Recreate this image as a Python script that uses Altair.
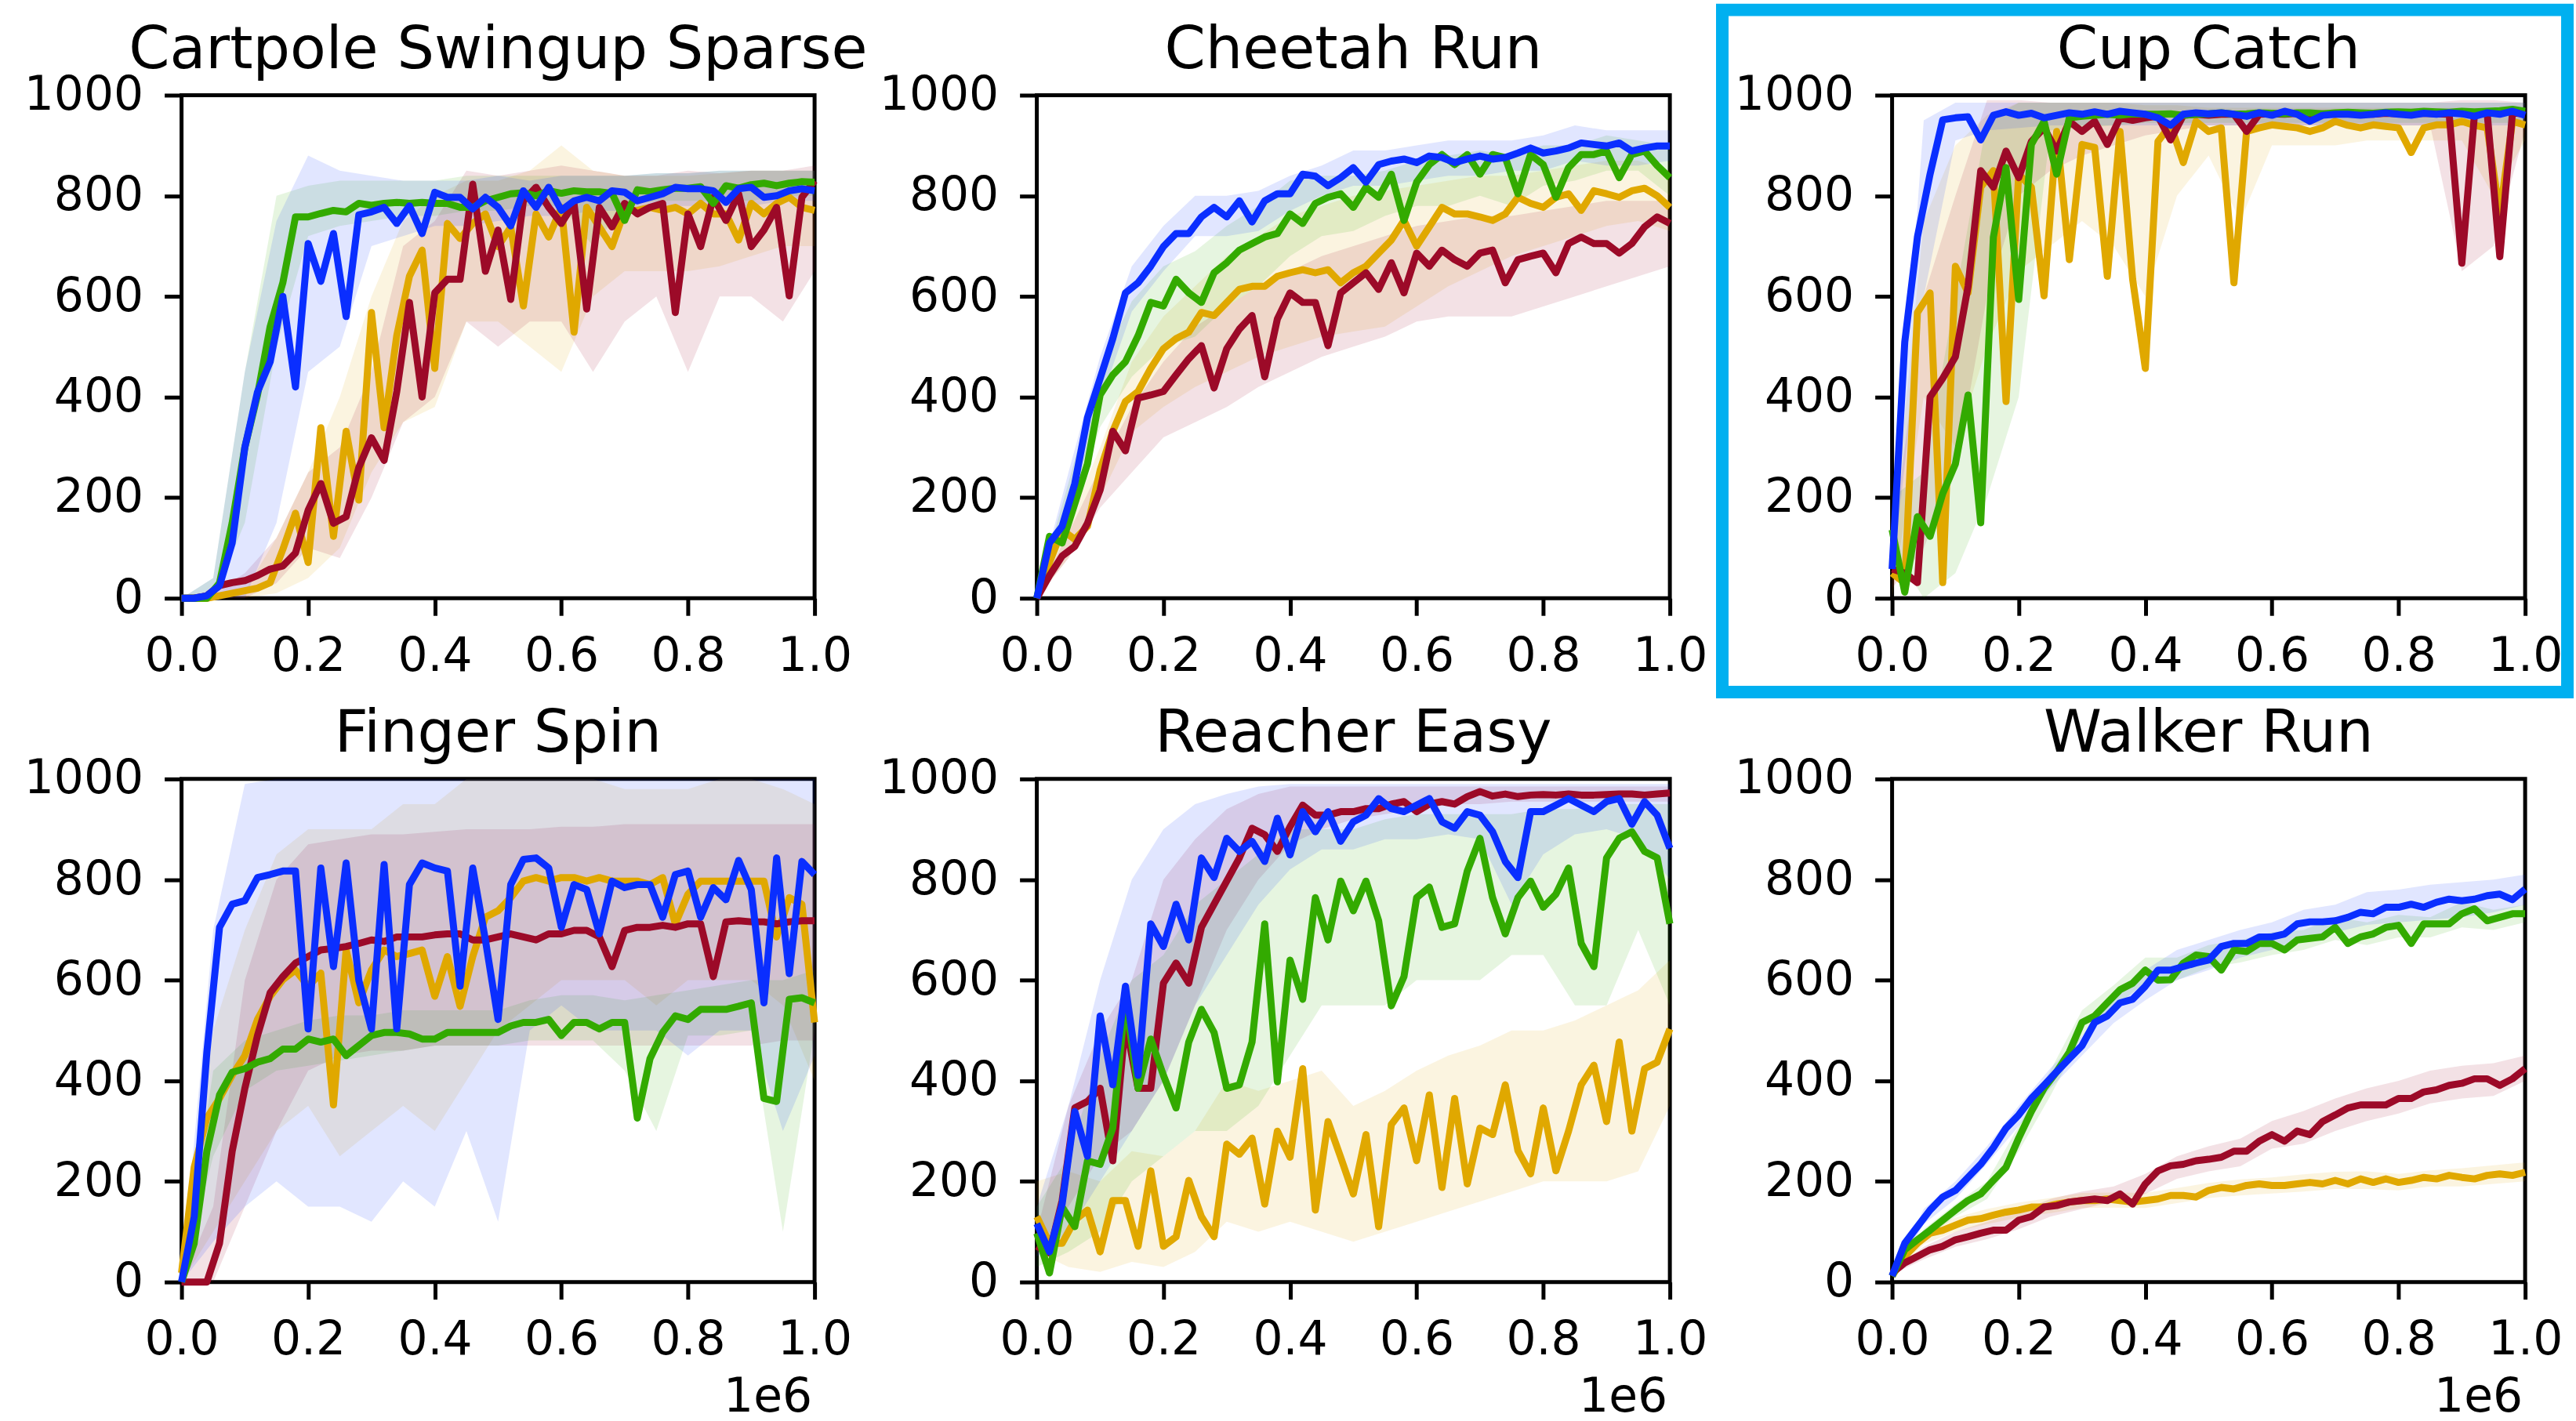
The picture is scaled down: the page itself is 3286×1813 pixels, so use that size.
import altair as alt
import pandas as pd

# evaluation steps (x, in units of 1e6 environment steps)
STEPS = [0.00, 0.02, 0.04, 0.06, 0.08, 0.10, 0.12, 0.14, 0.16, 0.18, 0.20, 0.22, 0.24, 0.26, 0.28,
         0.30, 0.32, 0.34, 0.36, 0.38, 0.40, 0.42, 0.44, 0.46, 0.48, 0.50, 0.52, 0.54, 0.56, 0.58,
         0.60, 0.62, 0.64, 0.66, 0.68, 0.70, 0.72, 0.74, 0.76, 0.78, 0.80, 0.82, 0.84, 0.86, 0.88,
         0.90, 0.92, 0.94, 0.96, 0.98, 1.00]
BAND_STEPS = [0.00, 0.05, 0.10, 0.15, 0.20, 0.25, 0.30, 0.35, 0.40, 0.45, 0.50, 0.55, 0.60, 0.65,
              0.70, 0.75, 0.80, 0.85, 0.90, 0.95, 1.00]
X_TICKS = [0.0, 0.2, 0.4, 0.6, 0.8, 1.0]
Y_TICKS = [0, 200, 400, 600, 800, 1000]

SERIES = ["gold", "crimson", "green", "blue"]
COLORS = {"gold": "#E0A800", "crimson": "#9C0A28", "green": "#33AA00", "blue": "#0A2EFF"}
TITLES = ["Cartpole Swingup Sparse", "Cheetah Run", "Cup Catch", "Finger Spin", "Reacher Easy", "Walker Run"]

# ---------------- Cartpole Swingup Sparse ----------------
CP_GOLD = [0,0,0,5,10,15,20,31,97,169,71,339,123,332,195,568,339,522,640,692,457,745,715,745,764,699,738,581,764,718,777,529,777,738,699,771,771,777,771,777,764,785,764,764,712,785,764,785,797,777,771]
CP_RED = [0,0,5,25,31,35,45,58,64,90,175,228,149,162,260,319,274,411,588,400,607,634,634,823,650,732,594,790,817,777,745,785,575,777,738,785,764,777,785,568,764,699,797,751,804,699,732,777,601,797,830]
CP_GREEN = [0,0,0,30,150,300,404,540,627,758,758,765,771,768,785,781,785,787,785,787,785,785,777,777,790,797,804,806,800,810,805,810,808,808,805,751,812,808,812,815,815,818,785,820,815,822,825,820,825,828,827]
CP_BLUE = [0,0,5,25,110,300,410,470,600,420,705,630,725,560,762,768,777,745,780,725,807,797,797,774,797,777,740,810,777,817,771,790,797,790,810,807,790,797,804,817,814,814,810,787,814,817,797,800,810,814,810]
CP_GOLD_LO = [0,0,0,10,40,100,250,350,380,550,550,500,450,600,650,650,650,660,680,700,700]
CP_GOLD_HI = [0,5,15,120,250,400,600,750,800,830,830,850,900,850,840,840,840,845,850,850,850]
CP_RED_LO = [0,0,0,30,100,80,200,350,400,550,500,550,550,450,550,600,450,600,600,550,650]
CP_RED_HI = [0,10,50,120,250,300,450,700,750,850,840,850,860,850,840,840,850,845,850,850,860]
CP_GREEN_LO = [0,0,150,500,720,740,750,760,760,770,770,780,780,700,780,790,790,790,790,800,800]
CP_GREEN_HI = [0,40,450,800,820,830,830,830,830,840,840,840,840,840,840,845,845,850,850,850,850]
CP_BLUE_LO = [0,0,0,150,450,500,700,720,740,740,750,760,760,770,770,780,780,780,780,790,790]
CP_BLUE_HI = [0,40,450,750,880,850,840,830,830,830,840,830,840,840,840,845,845,850,850,850,850]

# ---------------- Cheetah Run ----------------
CH_GOLD = [0,71,136,117,143,254,332,391,411,457,496,516,529,568,562,588,614,620,620,640,647,653,647,653,627,647,660,686,712,751,700,738,777,764,764,758,751,764,797,785,777,797,804,771,810,804,797,810,815,800,777]
CH_RED = [0,45,84,103,149,215,332,293,398,404,411,444,476,502,418,496,535,562,440,555,607,588,588,502,607,627,647,614,667,607,686,660,692,673,660,686,692,627,673,680,686,647,705,718,705,705,686,705,738,758,745]
CH_GREEN = [0,123,110,188,267,404,444,470,522,588,581,634,607,588,647,667,692,705,718,725,764,745,785,797,804,777,817,797,843,751,827,862,882,862,882,843,882,876,804,882,862,797,856,882,882,889,836,882,889,860,836]
CH_BLUE = [0,110,143,228,359,437,516,607,627,660,699,725,725,758,777,758,790,748,790,804,804,843,839,820,836,856,827,862,869,873,866,879,876,866,873,879,873,876,885,895,885,889,895,905,902,899,905,889,895,899,899]
CH_GOLD_LO = [0,80,200,330,380,420,450,480,500,520,530,540,580,620,650,680,700,720,740,750,730]
CH_GOLD_HI = [10,150,300,470,560,620,680,720,760,780,800,810,820,830,840,840,850,860,870,870,850]
CH_RED_LO = [0,80,180,250,320,350,380,420,450,480,500,520,550,560,560,560,580,600,620,640,660]
CH_RED_HI = [10,130,260,380,470,540,580,620,650,680,700,720,740,750,760,760,770,780,790,790,790]
CH_GREEN_LO = [0,140,340,440,500,520,580,620,680,720,730,760,780,780,800,780,820,830,850,850,800]
CH_GREEN_HI = [10,230,460,590,660,690,740,780,830,840,840,850,870,880,890,880,900,900,920,910,900]
CH_BLUE_LO = [0,160,390,570,650,720,720,730,770,800,820,820,830,840,840,850,850,870,860,860,870]
CH_BLUE_HI = [10,250,480,660,740,800,800,810,840,860,890,890,900,910,910,910,920,940,930,930,930]

# ---------------- Cup Catch ----------------
CC_GOLD = [50,30,568,607,31,660,607,817,850,391,843,817,601,928,673,902,896,640,928,634,457,908,941,866,948,928,935,627,928,935,941,938,935,928,935,948,940,935,941,938,935,886,935,941,941,948,940,935,764,948,941]
CC_RED = [58,50,31,400,437,480,620,850,817,889,836,908,935,889,948,928,948,902,955,950,955,958,911,960,962,960,962,962,928,962,963,962,964,962,963,962,964,963,962,964,963,962,964,963,962,666,962,965,679,965,962]
CC_GREEN = [136,12,162,123,208,267,404,150,718,856,594,902,948,843,955,958,960,962,960,963,962,962,963,960,962,963,965,962,963,965,964,963,965,965,963,965,966,965,964,966,967,966,968,967,966,968,967,968,969,972,968]
CC_BLUE = [58,509,718,843,951,955,957,911,960,967,960,964,955,960,965,962,967,962,968,965,962,955,940,962,965,963,965,962,958,965,960,968,962,948,960,962,962,960,962,965,962,960,964,962,965,963,958,965,962,968,960]
CC_GOLD_LO = [0,400,300,500,650,700,750,700,600,800,880,750,900,900,900,910,910,910,910,800,910]
CC_GOLD_HI = [100,750,900,960,985,985,985,985,980,980,975,975,975,975,975,975,975,975,975,975,975]
CC_RED_LO = [20,100,250,600,800,850,880,900,920,930,940,940,940,940,940,940,940,940,650,700,930]
CC_RED_HI = [100,600,800,990,990,985,985,985,985,985,985,985,985,985,985,985,985,985,990,990,985]
CC_GREEN_LO = [100,0,50,200,400,930,935,940,945,945,945,945,945,945,945,945,945,945,945,945,945]
CC_GREEN_HI = [200,250,600,950,985,985,985,985,985,985,985,985,985,985,985,985,985,985,985,985,985]
CC_BLUE_LO = [40,600,910,930,935,940,940,940,940,940,940,940,940,940,940,940,940,940,940,940,940]
CC_BLUE_HI = [80,950,985,985,985,985,985,985,985,985,985,985,985,985,985,985,985,985,985,985,985]

# ---------------- Finger Spin ----------------
FS_GOLD = [18,228,326,365,411,450,522,568,601,620,588,614,352,660,555,620,660,647,653,660,568,647,548,647,725,738,764,797,804,797,804,804,797,804,797,797,797,790,804,712,771,797,797,797,797,797,797,686,764,751,516]
FS_RED = [0,0,0,77,260,385,490,575,607,634,647,660,663,667,673,680,677,686,686,686,690,692,692,680,680,686,692,686,680,692,692,699,699,686,627,699,705,705,709,705,712,712,607,716,718,716,716,712,716,718,718]
FS_GREEN = [0,77,260,372,417,424,437,444,463,463,483,477,483,450,470,490,496,496,493,483,483,496,496,496,496,496,509,516,516,522,490,516,516,503,516,516,326,444,496,529,522,542,542,542,548,555,365,359,562,565,555]
FS_BLUE = [0,130,457,705,751,758,804,810,817,817,503,823,627,833,600,503,830,503,790,833,823,817,588,823,680,522,790,840,843,823,705,790,780,692,797,784,790,790,725,810,817,725,784,760,838,780,555,843,613,836,810]
FS_GOLD_LO = [0,100,200,300,350,250,300,350,300,400,500,550,600,600,600,550,600,600,600,550,400]
FS_GOLD_HI = [50,500,700,850,900,900,900,950,950,1000,1000,1000,1000,1000,980,980,980,1000,1000,980,950]
FS_RED_LO = [0,0,150,300,420,450,460,460,470,470,470,470,470,470,470,470,470,470,470,480,480]
FS_RED_HI = [0,150,600,800,870,880,890,890,895,900,900,900,905,905,910,910,910,910,910,910,910]
FS_GREEN_LO = [0,250,380,420,430,440,450,460,470,470,470,480,480,480,420,300,490,490,500,100,500]
FS_GREEN_HI = [0,420,480,500,520,530,530,540,540,540,540,560,570,570,560,570,580,590,600,600,620]
FS_BLUE_LO = [0,80,150,200,150,150,120,200,150,300,120,500,550,500,500,500,450,500,500,300,450]
FS_BLUE_HI = [0,700,990,1000,1000,1000,1000,1000,1000,1000,1000,1000,1000,1000,1000,1000,1000,1000,1000,1000,1000]

# ---------------- Reacher Easy ----------------
RE_GOLD = [130,77,77,123,143,60,162,162,71,221,71,90,202,130,90,274,254,286,155,300,248,424,143,319,248,175,293,110,313,346,241,372,188,365,195,306,293,392,261,215,346,221,300,392,431,319,477,300,424,437,503]
RE_RED = [71,58,162,346,359,385,241,516,385,385,594,634,594,705,751,797,843,902,889,856,905,948,928,928,935,935,941,941,950,955,935,950,955,950,965,975,966,970,965,968,969,968,970,968,968,969,970,970,968,970,972]
RE_GREEN = [97,18,149,110,241,234,306,562,385,483,411,346,477,542,496,385,392,477,712,398,640,562,764,680,797,738,797,718,549,607,764,785,705,712,817,882,764,692,764,797,745,771,823,673,627,843,882,895,856,843,712]
RE_BLUE = [116,60,155,339,250,529,392,588,411,712,667,751,680,843,804,882,856,876,836,922,849,935,895,935,876,915,928,961,941,935,948,961,915,902,935,928,895,836,804,935,935,948,961,948,935,955,961,910,955,928,862]
RE_GOLD_LO = [60,30,20,40,30,60,120,100,120,100,80,100,120,140,160,180,200,200,200,220,350]
RE_GOLD_HI = [200,220,200,260,250,300,400,380,400,420,350,380,420,450,470,500,500,520,550,580,640]
RE_RED_LO = [50,150,250,300,400,550,700,800,870,900,920,930,940,950,950,955,955,955,955,955,955]
RE_RED_HI = [100,350,500,600,800,880,940,970,985,985,985,985,985,985,985,985,985,985,985,985,985]
RE_GREEN_LO = [30,60,100,200,250,300,300,350,450,550,550,550,600,600,600,650,650,550,550,700,550]
RE_GREEN_HI = [150,250,450,600,650,750,800,850,900,900,900,920,930,930,930,930,940,940,950,950,950]
RE_BLUE_LO = [50,100,200,300,400,550,650,750,820,860,860,880,880,890,880,750,850,890,900,880,800]
RE_BLUE_HI = [150,350,600,800,900,950,970,985,990,990,990,990,990,990,990,990,990,990,990,990,990]

# ---------------- Walker Run ----------------
WR_GOLD = [12,51,77,97,103,113,123,126,133,139,143,149,149,155,159,162,162,165,162,159,162,165,172,172,169,182,188,185,192,195,192,192,195,198,195,202,195,205,198,205,198,202,208,205,212,208,205,212,215,212,218]
WR_RED = [18,38,51,64,71,84,90,97,103,103,123,130,149,152,159,162,165,162,175,155,195,221,231,234,241,244,248,260,260,280,293,280,300,293,319,332,346,352,352,352,365,365,378,382,391,395,404,404,391,404,424]
WR_GREEN = [12,64,84,103,123,143,162,175,202,228,286,339,385,418,457,516,529,555,581,594,620,600,601,634,650,647,620,660,657,673,673,660,680,683,686,705,673,686,692,705,709,673,712,712,712,732,742,718,725,732,732]
WR_BLUE = [12,77,110,143,169,182,208,234,267,306,332,365,391,418,444,470,516,529,555,562,588,620,620,627,634,640,667,673,673,686,686,692,712,716,716,718,725,735,732,745,745,751,745,755,761,758,761,768,771,760,781]
WR_GOLD_LO = [10,75,100,115,128,137,147,148,147,157,167,172,176,180,185,185,182,190,190,195,200]
WR_GOLD_HI = [15,100,128,145,158,167,177,178,177,187,197,204,208,214,219,220,215,222,226,232,238]
WR_RED_LO = [15,45,70,85,105,130,145,160,175,205,220,230,265,275,300,320,335,355,365,370,400]
WR_RED_HI = [22,70,100,120,140,165,180,190,215,250,270,285,320,340,365,385,400,420,430,435,450]
WR_GREEN_LO = [10,85,130,165,260,370,490,545,595,600,625,635,650,660,680,670,685,685,705,700,715]
WR_GREEN_HI = [15,105,155,200,310,420,540,590,645,645,670,680,695,700,725,715,730,725,755,740,750]
WR_BLUE_LO = [10,115,165,235,310,385,450,515,560,600,620,645,660,685,695,710,715,720,725,735,750]
WR_BLUE_HI = [15,145,200,270,350,425,490,560,620,660,680,700,715,740,750,775,780,790,795,800,810]

PANEL_DATA = [
    {"gold": (CP_GOLD, CP_GOLD_LO, CP_GOLD_HI), "crimson": (CP_RED, CP_RED_LO, CP_RED_HI),
     "green": (CP_GREEN, CP_GREEN_LO, CP_GREEN_HI), "blue": (CP_BLUE, CP_BLUE_LO, CP_BLUE_HI)},
    {"gold": (CH_GOLD, CH_GOLD_LO, CH_GOLD_HI), "crimson": (CH_RED, CH_RED_LO, CH_RED_HI),
     "green": (CH_GREEN, CH_GREEN_LO, CH_GREEN_HI), "blue": (CH_BLUE, CH_BLUE_LO, CH_BLUE_HI)},
    {"gold": (CC_GOLD, CC_GOLD_LO, CC_GOLD_HI), "crimson": (CC_RED, CC_RED_LO, CC_RED_HI),
     "green": (CC_GREEN, CC_GREEN_LO, CC_GREEN_HI), "blue": (CC_BLUE, CC_BLUE_LO, CC_BLUE_HI)},
    {"gold": (FS_GOLD, FS_GOLD_LO, FS_GOLD_HI), "crimson": (FS_RED, FS_RED_LO, FS_RED_HI),
     "green": (FS_GREEN, FS_GREEN_LO, FS_GREEN_HI), "blue": (FS_BLUE, FS_BLUE_LO, FS_BLUE_HI)},
    {"gold": (RE_GOLD, RE_GOLD_LO, RE_GOLD_HI), "crimson": (RE_RED, RE_RED_LO, RE_RED_HI),
     "green": (RE_GREEN, RE_GREEN_LO, RE_GREEN_HI), "blue": (RE_BLUE, RE_BLUE_LO, RE_BLUE_HI)},
    {"gold": (WR_GOLD, WR_GOLD_LO, WR_GOLD_HI), "crimson": (WR_RED, WR_RED_LO, WR_RED_HI),
     "green": (WR_GREEN, WR_GREEN_LO, WR_GREEN_HI), "blue": (WR_BLUE, WR_BLUE_LO, WR_BLUE_HI)},
]

for i, pdict in enumerate(PANEL_DATA):
    for s, (mean, lo, hi) in pdict.items():
        if len(mean) != len(STEPS) or len(lo) != len(BAND_STEPS) or len(hi) != len(BAND_STEPS):
            raise ValueError(f"length mismatch panel {i} series {s}: {len(mean)} {len(lo)} {len(hi)}")

W, H = 809, 643
FONT = "DejaVu Sans"

axis_common = dict(grid=False, domain=False, ticks=True, tickSize=22, tickWidth=5, tickColor="black",
                   labelFont=FONT, labelFontSize=60, labelColor="black", title=None,
                   labelFlush=False, labelOverlap=False)
x_axis = alt.Axis(values=X_TICKS, format=".1f", labelPadding=23, **axis_common)
y_axis = alt.Axis(values=Y_TICKS, format="d", labelPadding=27, **axis_common)
x_scale = alt.Scale(domain=[0, 1], nice=False, zero=False)
y_scale = alt.Scale(domain=[0, 1000], nice=False)


def make_panel(idx):
    pdict = PANEL_DATA[idx]
    layers = []
    for s in SERIES:
        _, lo, hi = pdict[s]
        bdf = pd.DataFrame({"x": BAND_STEPS, "lo": lo, "hi": hi})
        layers.append(
            alt.Chart(bdf).mark_area(color=COLORS[s], opacity=0.12).encode(
                x=alt.X("x:Q", scale=x_scale, axis=x_axis),
                y=alt.Y("lo:Q", scale=y_scale, axis=y_axis),
                y2="hi:Q",
            )
        )
    for s in SERIES:
        mean, _, _ = pdict[s]
        ldf = pd.DataFrame({"x": STEPS, "y": mean})
        layers.append(
            alt.Chart(ldf).mark_line(color=COLORS[s], strokeWidth=9, strokeJoin="round").encode(
                x=alt.X("x:Q", scale=x_scale, axis=x_axis),
                y=alt.Y("y:Q", scale=y_scale, axis=y_axis),
            )
        )
    # panel title (drawn as text so it sits at a fixed distance above the frame)
    layers.append(
        alt.Chart(pd.DataFrame({"t": [TITLES[idx]]})).mark_text(
            font=FONT, fontSize=75, color="black", align="center", baseline="alphabetic"
        ).encode(text="t:N", x=alt.value(W / 2), y=alt.value(-35))
    )
    if idx == 2:
        layers.append(
            alt.Chart(pd.DataFrame({"k": [0]})).mark_rect(
                fill="white", fillOpacity=0, stroke="#00B0F0", strokeWidth=16
            ).encode(x=alt.value(-217), x2=alt.value(863), y=alt.value(-109), y2=alt.value(763))
        )
    if idx >= 3:
        layers.append(
            alt.Chart(pd.DataFrame({"t": ["1e6"]})).mark_text(
                font=FONT, fontSize=60, color="black", align="right", baseline="alphabetic"
            ).encode(text="t:N", x=alt.value(W - 3), y=alt.value(H + 166))
        )
    return alt.layer(*layers).properties(width=W, height=H)


panels = [make_panel(i) for i in range(6)]

chart = alt.concat(
    *panels, columns=3, spacing={"row": 231, "column": 284}, bounds="flush",
    padding={"left": 27, "top": 0, "right": 0, "bottom": 0}, background="white",
).configure_view(
    stroke="black", strokeWidth=5
)

chart.save("out.html", embed_options={"renderer": "svg", "actions": False})
